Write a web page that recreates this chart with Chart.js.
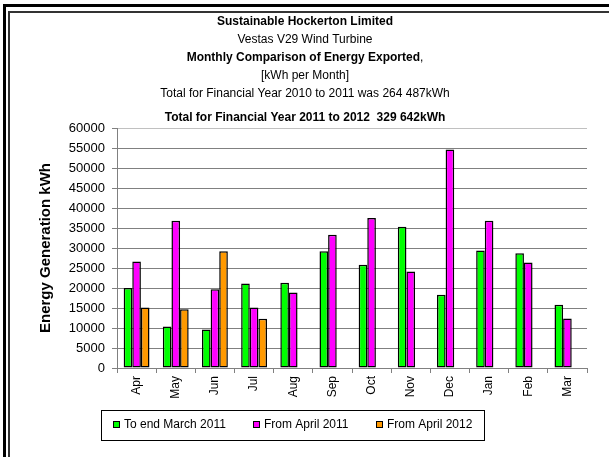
<!DOCTYPE html>
<html>
<head>
<meta charset="utf-8">
<script src="https://cdn.jsdelivr.net/npm/chart.js@4.4.0/dist/chart.umd.min.js"></script>
<style>
  html, body { margin: 0; padding: 0; background: #fff; }
  #c { display: block; }
</style>
</head>
<body>
<canvas id="c" width="609" height="457"></canvas>
<script>
// Monthly export, kWh
const months = ['Apr', 'May', 'Jun', 'Jul', 'Aug', 'Sep', 'Oct', 'Nov', 'Dec', 'Jan', 'Feb', 'Mar'];
const toEndMarch2011 = [20000, 10400, 9600, 21100, 21300, 29200, 25800, 35300, 18300, 29400, 28700, 15800];
const fromApril2011 = [26600, 36800, 19700, 15100, 18900, 33300, 37500, 24100, 54600, 36800, 26400, 12400];
const fromApril2012 = [15100, 14700, 29200, 12300, null, null, null, null, null, null, null, null];
const seriesNames = ['To end March 2011', 'From April 2011', 'From April 2012'];
const seriesColors = ['#00ff00', '#ff00ff', '#ff9900'];

const titleLines = [
  'Sustainable Hockerton Limited',
  'Vestas V29 Wind Turbine',
  'Monthly Comparison of Energy Exported',
  '[kWh per Month]',
  'Total for Financial Year 2010 to 2011 was 264 487kWh',
  'Total for Financial Year 2011 to 2012  329 642kWh'
];
const titleBold = [true, false, true, false, false, true];
const yTicks = { min: 0, max: 60000, step: 5000 };

const FONT = '"Liberation Sans", Arial, sans-serif';

// double frame, stacked title lines and boxed legend, like the Excel original
const decorations = {
  id: 'decorations',
  beforeDraw(chart) {
    const ctx = chart.ctx;
    ctx.save();
    ctx.fillStyle = '#fff';
    ctx.fillRect(0, 0, chart.width, chart.height);
    ctx.fillStyle = '#000';
    ctx.fillRect(3, 4, 3, chart.height - 4);
    ctx.fillRect(3, 4, chart.width - 3, 3);
    ctx.fillStyle = '#333';
    ctx.fillRect(8, 11, 2, chart.height - 11);
    ctx.fillRect(8, 11, chart.width - 8, 2);
    ctx.restore();
  },
  afterDraw(chart) {
    const ctx = chart.ctx;
    ctx.save();
    ctx.fillStyle = '#000';
    ctx.textBaseline = 'middle';
    const ys = [22, 40, 58, 76, 94, 118];
    titleLines.forEach((t, i) => {
      ctx.font = (titleBold[i] ? 'bold 12px ' : '12px ') + FONT;
      if (i === 2) {
        // the comma after the bold line is set in regular weight
        ctx.textAlign = 'left';
        const w = ctx.measureText(t).width;
        ctx.font = '12px ' + FONT;
        const cw = ctx.measureText(',').width;
        const x0 = 305 - (w + cw) / 2;
        ctx.font = 'bold 12px ' + FONT;
        ctx.fillText(t, x0, ys[i]);
        ctx.font = '12px ' + FONT;
        ctx.fillText(',', x0 + w, ys[i]);
      } else {
        ctx.textAlign = 'center';
        ctx.fillText(t, 305, ys[i]);
      }
    });

    // legend
    ctx.strokeStyle = '#000';
    ctx.lineWidth = 1;
    ctx.strokeRect(101.5, 410.5, 383, 30);
    ctx.font = '12px ' + FONT;
    ctx.textAlign = 'left';
    const xs = [113, 253, 376];
    chart.data.datasets.forEach((ds, i) => {
      ctx.fillStyle = ds.backgroundColor;
      ctx.fillRect(xs[i], 421, 7, 7);
      ctx.strokeRect(xs[i] + 0.5, 421.5, 6, 6);
      ctx.fillStyle = '#000';
      ctx.fillText(ds.label, xs[i] + 11, 425);
    });
    ctx.restore();
  }
};

const datasets = [toEndMarch2011, fromApril2011, fromApril2012].map((values, i) => ({
  label: seriesNames[i],
  data: values,
  backgroundColor: seriesColors[i],
  borderColor: '#000',
  borderWidth: 1.5,
  borderSkipped: false,
  categoryPercentage: 0.66,
  barPercentage: 1.0
}));

new Chart(document.getElementById('c'), {
  type: 'bar',
  data: { labels: months, datasets },
  options: {
    responsive: false,
    animation: false,
    layout: { padding: { top: 128, left: 10, right: 22, bottom: 0 } },
    plugins: {
      legend: { display: false },
      title: { display: false },
      tooltip: { enabled: false }
    },
    scales: {
      x: {
        afterFit(scale) { scale.height = 89; },
        grid: { drawOnChartArea: false, color: '#808080', tickLength: 5, offset: true },
        border: { color: '#808080' },
        ticks: {
          minRotation: 90, maxRotation: 90, padding: 3,
          color: '#000', font: { family: FONT, size: 12 }
        }
      },
      y: {
        min: yTicks.min, max: yTicks.max,
        afterFit(scale) { scale.width = 107; },
        grid: {
          color: ctx => ctx.tick && ctx.tick.value === yTicks.max ? '#c0c0c0' : '#808080',
          tickColor: '#808080', tickLength: 5
        },
        border: { color: '#808080' },
        ticks: {
          stepSize: yTicks.step, padding: 7, color: '#000',
          font: { family: FONT, size: 13 },
          callback: v => String(v)
        },
        title: {
          display: true, text: 'Energy Generation kWh', color: '#000',
          font: { family: FONT, size: 15, weight: 'bold' },
          padding: { top: 27, bottom: 0 }
        }
      }
    }
  },
  plugins: [decorations]
});
</script>
</body>
</html>
